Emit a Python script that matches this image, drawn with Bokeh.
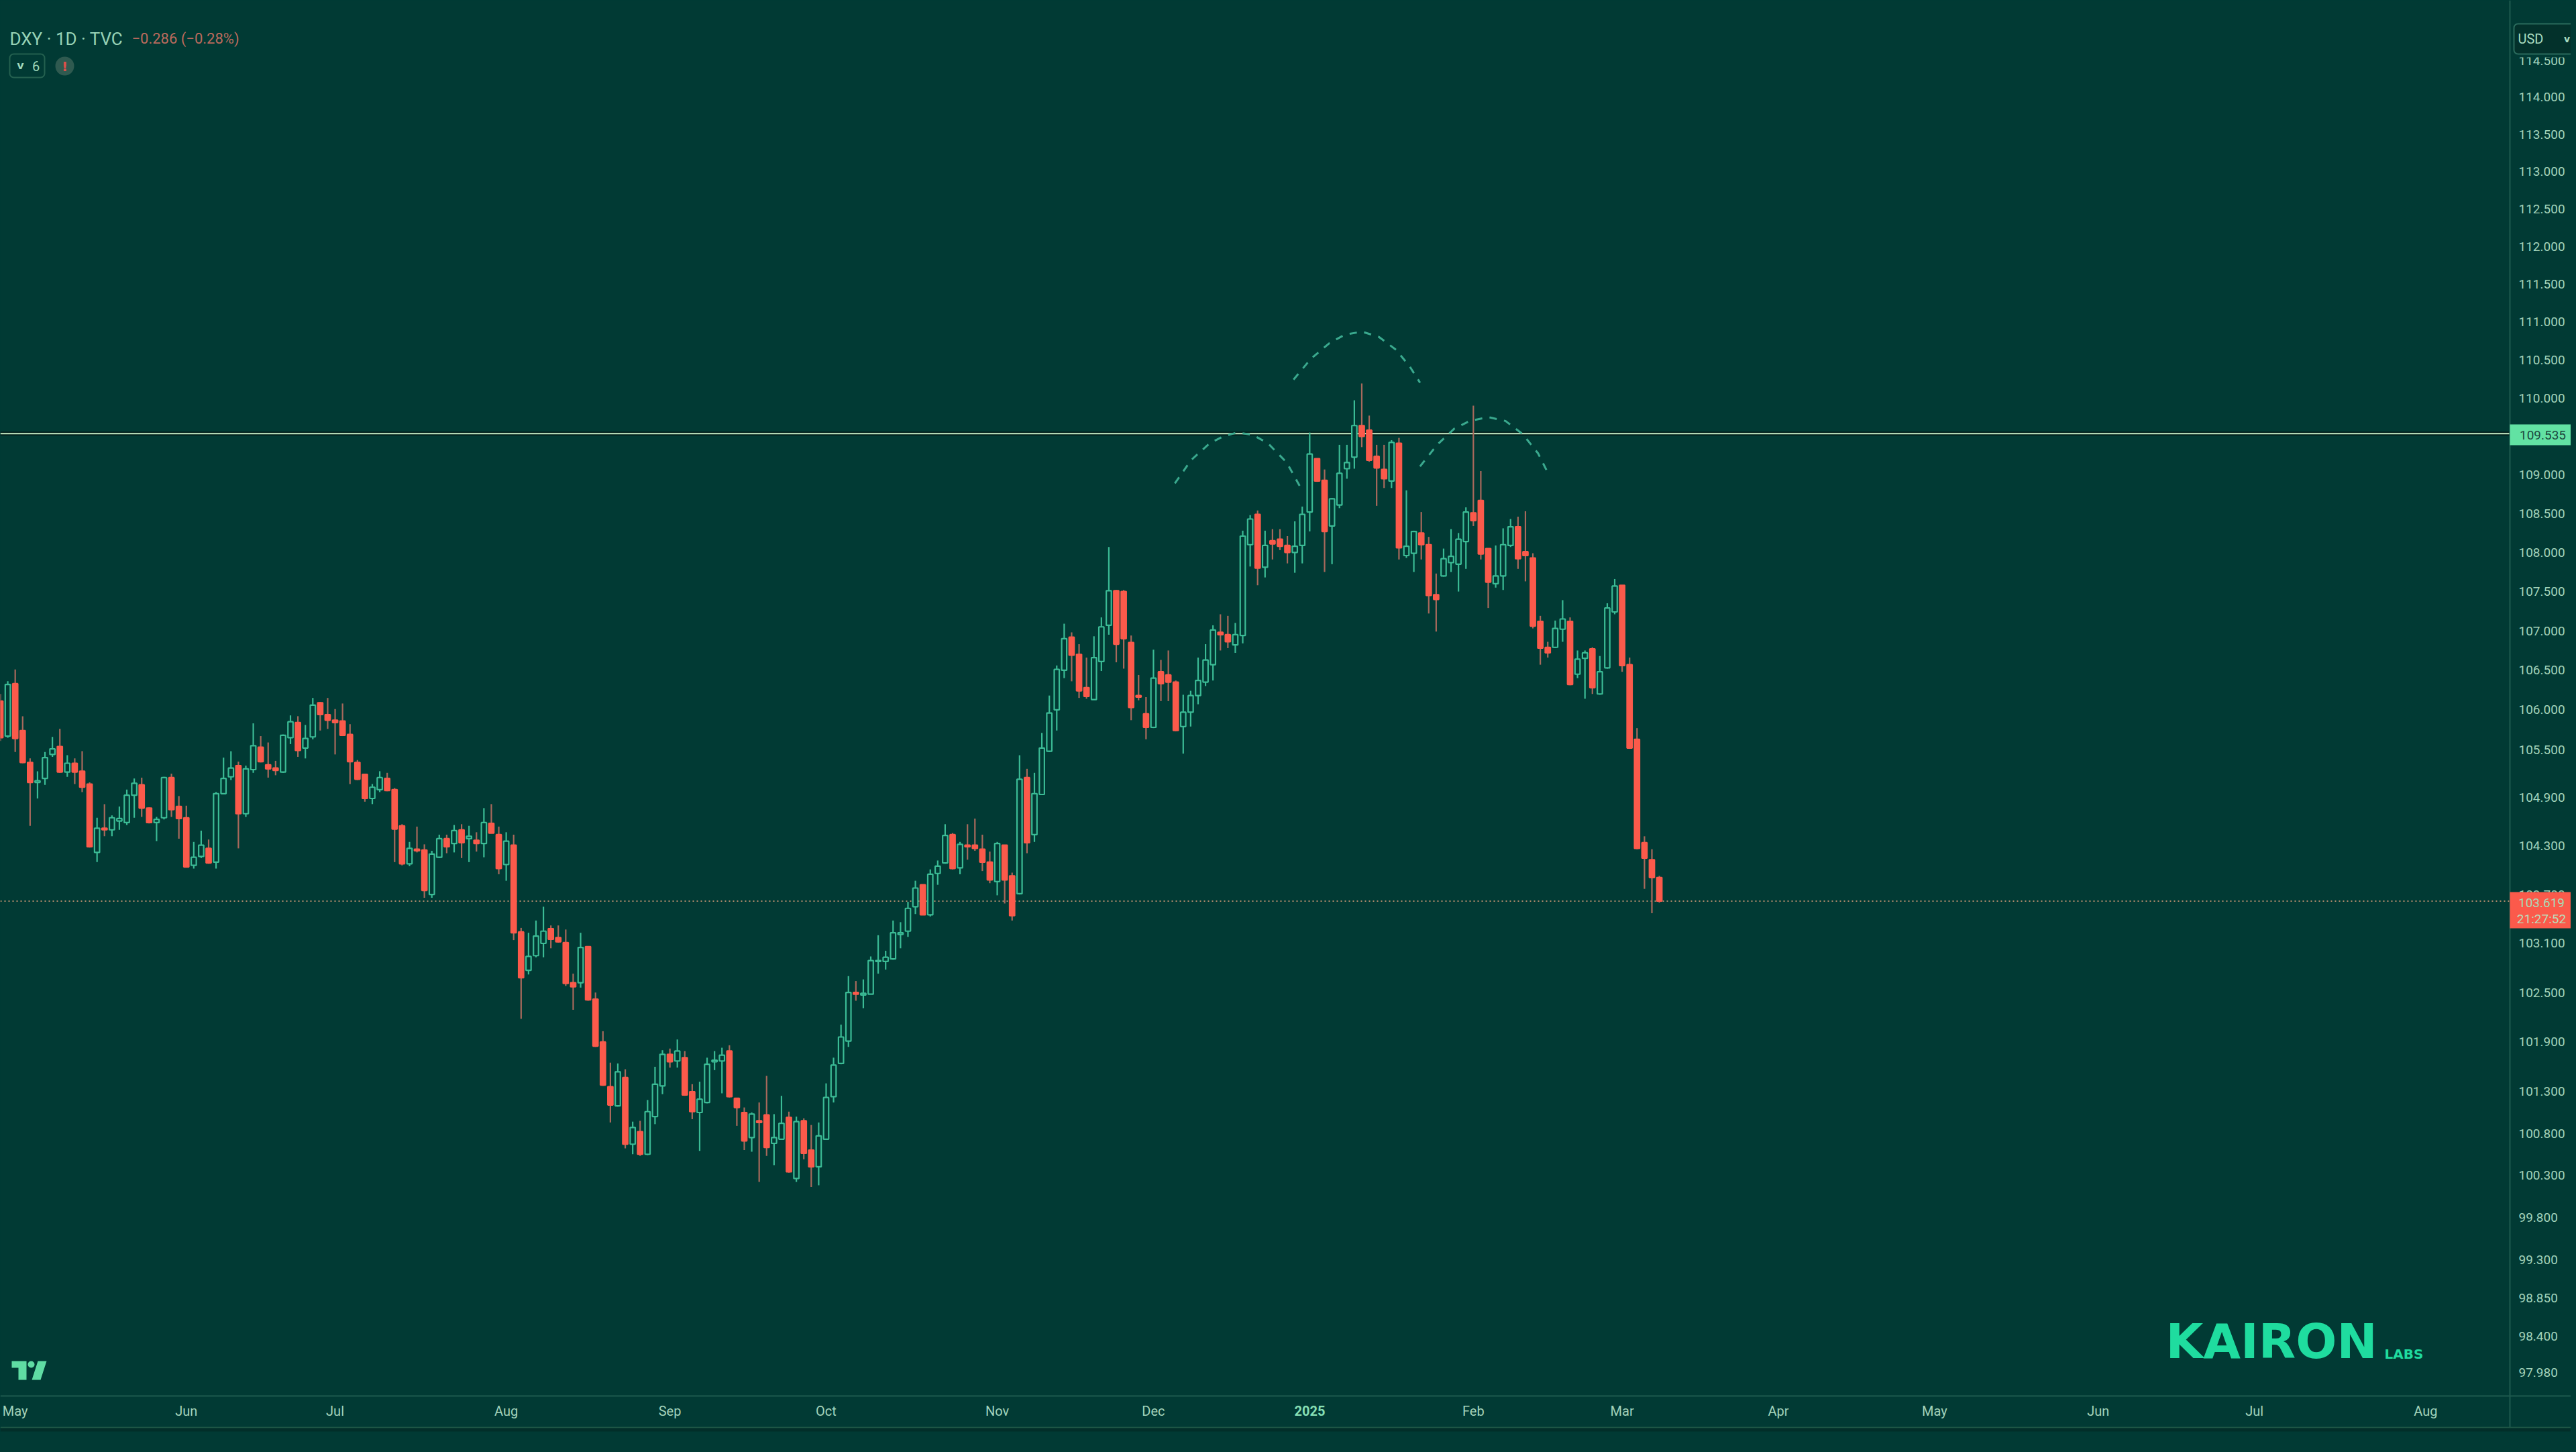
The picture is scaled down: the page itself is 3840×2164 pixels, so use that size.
from bokeh.embed import file_html
from bokeh.resources import INLINE
from bokeh.plotting import figure
from bokeh.models import (ColumnDataSource, FixedTicker, NumeralTickFormatter, Span, Label, BoxAnnotation,
                          PolyAnnotation, GlobalInlineStyleSheet)

BG = "#013a34"
UP = "#3bbb95"
DOWN = "#fb5a4b"
DOWN_WICK = "#a8695c"
AXIS_TEXT = "#a3d3bb"
SEP = "#1f5a4e"
BAR_PX = 11.09

opens = [106.11,105.67,106.33,105.74,105.34,105.09,105.14,105.44,105.54,105.22,
         105.33,105.23,105.07,104.22,104.52,104.50,104.61,104.59,104.93,105.06,
         104.77,104.59,104.65,105.15,104.79,104.65,104.06,104.17,104.27,104.10,
         104.95,105.16,105.30,104.70,105.25,105.53,105.31,105.27,105.22,105.65,
         105.84,105.52,105.66,106.09,105.94,105.87,105.86,105.69,105.34,105.19,
         104.89,105.00,105.14,105.00,104.55,104.08,104.26,104.25,103.70,104.16,
         104.39,104.33,104.50,104.39,104.37,104.33,104.58,104.44,104.07,104.31,
         103.24,102.77,102.95,103.10,103.28,103.17,103.11,102.62,102.62,103.06,
         102.42,101.90,101.36,101.13,101.47,100.67,100.82,100.55,101.00,101.37,
         101.75,101.67,101.71,101.30,101.05,101.17,101.66,101.67,101.79,101.22,
         101.05,100.75,100.95,101.02,100.68,100.73,100.99,100.26,100.95,100.60,
         100.40,100.73,101.24,101.64,101.91,102.50,102.47,102.48,102.88,102.88,
         102.91,103.21,103.25,103.55,103.82,103.45,103.96,104.09,104.44,104.03,
         104.31,104.31,104.26,104.10,103.86,104.31,103.93,103.71,105.15,104.44,
         104.94,105.48,106.00,106.50,106.92,106.70,106.28,106.13,106.61,107.07,
         107.51,107.50,106.85,106.18,105.95,105.78,106.48,106.44,106.35,105.79,
         105.97,106.18,106.35,106.57,106.98,106.95,106.82,106.94,108.10,108.49,
         107.81,108.15,108.17,108.09,108.00,108.09,108.52,109.21,108.93,108.34,
         108.61,109.08,109.23,109.64,109.58,109.24,109.07,108.92,109.41,107.96,
         107.99,108.25,108.10,107.46,107.70,107.87,107.85,108.14,108.51,108.67,
         108.05,107.60,107.70,108.09,108.33,108.01,107.93,107.12,106.79,106.79,
         107.02,107.12,106.45,106.65,106.77,106.20,106.53,107.24,107.58,106.57,
         105.63,104.34,104.13,103.91]
highs = [106.20,106.36,106.51,105.92,105.39,105.23,105.47,105.66,105.76,105.43,
         105.39,105.48,105.09,104.65,104.82,104.68,104.79,105.00,105.14,105.15,
         104.78,104.66,105.16,105.20,104.92,104.80,104.35,104.49,104.38,104.97,
         105.40,105.48,105.35,105.30,105.83,105.67,105.59,105.36,105.69,105.93,
         105.92,105.81,106.15,106.10,106.15,106.01,106.08,105.82,105.37,105.19,
         105.07,105.23,105.21,105.02,104.57,104.35,104.54,104.32,104.24,104.44,
         104.44,104.56,104.57,104.55,104.47,104.77,104.82,104.54,104.47,104.44,
         103.29,103.23,103.38,103.55,103.32,103.32,103.27,102.73,103.23,103.06,
         102.50,102.03,101.65,101.64,101.57,100.94,100.95,101.20,101.60,101.80,
         101.82,101.93,101.79,101.39,101.42,101.71,101.79,101.83,101.86,101.22,
         101.11,101.05,101.17,101.49,101.03,101.25,101.06,101.00,100.98,100.90,
         100.93,101.40,101.71,102.11,102.70,102.64,102.66,102.94,103.20,103.01,
         103.38,103.36,103.61,103.87,103.82,104.01,104.12,104.57,104.46,104.35,
         104.57,104.64,104.44,104.23,104.35,104.31,103.97,105.43,105.26,105.21,
         105.71,106.18,106.56,107.09,106.98,106.83,106.66,106.93,107.17,108.07,
         107.52,107.52,106.94,106.44,106.16,106.76,106.63,106.75,106.37,106.19,
         106.24,106.66,106.83,107.07,107.21,107.19,107.10,108.28,108.48,108.54,
         108.28,108.30,108.30,108.21,108.40,108.59,109.55,109.21,109.07,108.70,
         109.39,109.39,109.97,110.19,109.77,109.39,109.39,109.45,109.48,108.80,
         108.28,108.52,108.20,107.73,108.05,108.30,108.25,108.58,109.90,109.05,
         108.05,108.09,108.31,108.43,108.46,108.53,107.99,107.19,106.86,107.13,
         107.39,107.17,106.75,106.75,106.79,106.68,107.35,107.66,107.58,106.66,
         105.77,104.42,104.26,103.93]
lows = [105.61,105.65,105.47,105.33,104.55,104.89,105.06,105.41,105.21,105.16,
        105.07,104.97,104.28,104.10,104.42,104.42,104.50,104.56,104.65,104.66,
        104.58,104.36,104.63,104.66,104.39,104.04,104.02,104.15,104.08,104.02,
        104.94,105.12,104.27,104.66,105.21,105.34,105.15,105.18,105.21,105.57,
        105.41,105.39,105.63,105.74,105.76,105.44,105.67,105.07,105.12,104.85,
        104.82,104.97,104.98,104.10,104.06,104.05,104.22,103.66,103.66,104.15,
        104.21,104.22,104.15,104.10,104.23,104.16,104.46,103.95,103.87,103.14,
        102.18,102.72,102.93,102.93,103.04,103.11,102.58,102.29,102.56,102.40,
        101.84,101.37,100.93,101.12,100.62,100.55,100.53,100.54,100.91,101.27,
        101.59,101.59,101.25,100.97,100.59,101.16,101.56,101.28,101.23,100.89,
        100.60,100.58,100.22,100.53,100.42,100.73,100.33,100.22,100.49,100.16,
        100.18,100.72,101.17,101.63,101.84,102.40,102.31,102.48,102.73,102.78,
        102.90,103.04,103.18,103.46,103.45,103.43,103.82,104.08,104.01,103.95,
        104.13,104.24,103.99,103.84,103.69,103.59,103.38,103.70,104.21,104.35,
        104.94,105.47,105.74,106.40,106.36,106.15,106.14,106.13,106.49,106.95,
        106.60,106.52,105.87,106.12,105.63,105.77,106.11,106.11,105.73,105.45,
        105.79,106.07,106.30,106.37,106.75,106.78,106.72,106.84,107.82,107.58,
        107.68,107.91,108.03,107.86,107.74,107.86,108.27,108.91,107.75,107.85,
        108.57,108.95,109.08,109.36,109.17,108.60,108.83,108.83,107.91,107.93,
        107.75,107.91,107.22,106.99,107.69,107.75,107.50,107.79,108.34,107.91,
        107.29,107.55,107.52,108.07,107.79,107.63,107.03,106.57,106.66,106.78,
        106.86,106.31,106.40,106.14,106.20,106.19,106.52,107.21,106.48,105.51,
        104.26,103.77,103.47,103.60]
closes = [105.65,106.32,105.64,105.34,105.09,105.11,105.40,105.51,105.22,105.33,
          105.22,105.03,104.29,104.52,104.50,104.65,104.64,104.93,105.08,104.77,
          104.59,104.63,105.15,104.75,104.64,104.04,104.16,104.31,104.09,104.95,
          105.14,105.27,104.70,105.26,105.55,105.35,105.26,105.24,105.68,105.85,
          105.49,105.64,106.06,105.94,105.87,105.84,105.68,105.35,105.13,104.89,
          105.03,105.15,104.99,104.51,104.08,104.27,104.24,103.75,104.20,104.39,
          104.29,104.49,104.34,104.42,104.33,104.59,104.46,104.02,104.36,103.23,
          102.68,102.94,103.19,103.25,103.15,103.12,102.61,102.57,103.05,102.41,
          101.85,101.38,101.14,101.54,100.67,100.87,100.55,101.06,101.39,101.75,
          101.66,101.79,101.26,101.06,101.21,101.63,101.68,101.74,101.24,101.11,
          100.71,101.03,100.93,100.63,100.75,100.92,100.34,100.94,100.56,100.40,
          100.77,101.23,101.62,101.96,102.50,102.48,102.49,102.89,102.89,102.93,
          103.23,103.23,103.53,103.78,103.45,103.95,104.05,104.43,104.02,104.32,
          104.29,104.27,104.10,103.88,104.33,103.88,103.44,105.13,104.34,104.95,
          105.52,105.96,106.51,106.90,106.69,106.24,106.17,106.66,107.05,107.51,
          106.83,106.90,106.03,106.16,105.78,106.40,106.33,106.35,105.74,105.97,
          106.18,106.37,106.63,107.01,106.95,106.86,106.95,108.21,108.43,107.80,
          108.09,108.11,108.08,108.00,108.08,108.49,109.27,108.92,108.27,108.69,
          109.02,109.16,109.64,109.50,109.19,109.09,108.95,109.42,108.06,108.08,
          108.27,108.10,107.45,107.40,107.92,107.95,108.17,108.52,108.41,107.98,
          107.62,107.70,108.10,108.33,107.92,107.96,107.06,106.78,106.72,107.03,
          107.15,106.32,106.64,106.72,106.28,106.48,107.29,107.57,106.56,105.52,
          104.27,104.15,103.91,103.619]

price_ticks = [114.5,114,113.5,113,112.5,112,111.5,111,110.5,110,109,108.5,108,107.5,107,106.5,106,105.5,
               104.9,104.3,103.7,103.1,102.5,101.9,101.3,100.8,100.3,99.8,99.3,98.85,98.4,97.98]
month_positions = [2,25,45,68,90,111,134,155,198,218,239,260,282,303,326]
month_labels = ["May","Jun","Jul","Aug","Sep","Oct","Nov","Dec","Feb","Mar","Apr","May","Jun","Jul","Aug"]

neckline_price = 109.535
last_price = 103.619

arc_left_x = [157.88,160.04,162.57,164.41,166.25,168.32,170.38,172.91,174.75]
arc_left_y = [108.89,109.19,109.41,109.50,109.55,109.52,109.41,109.16,108.84]
arc_head_x = [173.83,176.13,178.66,180.72,183.02,185.32,187.62,189.46,190.83]
arc_head_y = [110.24,110.51,110.72,110.83,110.87,110.80,110.63,110.41,110.20]
arc_right_x = [190.83,193.13,195.43,197.5,200.03,202.32,204.62,206.69,207.84]
arc_right_y = [109.11,109.39,109.60,109.70,109.75,109.70,109.53,109.28,109.06]

n = len(opens)
idx = list(range(n))
up = [c >= o for o, c in zip(opens, closes)]
src = ColumnDataSource(dict(x=idx, o=opens, h=highs, l=lows, c=closes,
                            top=[max(a, b) for a, b in zip(opens, closes)],
                            bot=[min(a, b) for a, b in zip(opens, closes)],
                            wick=[UP if u else DOWN_WICK for u in up],
                            fill=[BG if u else DOWN for u in up],
                            edge=[UP if u else DOWN for u in up]))

W, H = 3832, 2148
p = figure(width=W, height=H, output_backend="svg", toolbar_location=None,
           y_axis_type="log", y_axis_location="right",
           x_range=(0, W/BAR_PX), y_range=(97.176, 115.32),
           min_border_left=0, min_border_top=0, min_border_right=0, min_border_bottom=0,
           background_fill_color=BG, border_fill_color=BG, outline_line_color=None,
           stylesheets=[GlobalInlineStyleSheet(css=f"html,body{{background:{BG};}}")])
p.grid.visible = False

p.yaxis.fixed_location = 3741/BAR_PX
p.yaxis.ticker = FixedTicker(ticks=price_ticks)
p.yaxis.formatter = NumeralTickFormatter(format="0.000")
p.yaxis.major_tick_line_color = None
p.yaxis.minor_tick_line_color = None
p.yaxis.major_tick_out = 0
p.yaxis.major_tick_in = 0
p.yaxis.axis_line_color = None
p.yaxis.major_label_text_color = AXIS_TEXT
p.yaxis.major_label_text_font = "Roboto"
p.yaxis.major_label_text_font_size = "19px"
p.yaxis.major_label_standoff = 13

p.xaxis.fixed_location = 97.70
p.xaxis.ticker = FixedTicker(ticks=month_positions)
p.xaxis.major_label_overrides = {int(a): b for a, b in zip(month_positions, month_labels)}
p.xaxis.major_tick_line_color = None
p.xaxis.minor_tick_line_color = None
p.xaxis.major_tick_out = 0
p.xaxis.major_tick_in = 0
p.xaxis.axis_line_color = None
p.xaxis.major_label_text_color = AXIS_TEXT
p.xaxis.major_label_text_font = "Roboto"
p.xaxis.major_label_text_font_size = "20px"
p.xaxis.major_label_standoff = 10

neck_halo = Span(location=neckline_price, dimension="width", line_color="#021f1b", line_width=6, level="underlay")
neck = Span(location=neckline_price, dimension="width", line_color="#c8efc8", line_width=2, level="underlay")
last = Span(location=last_price, dimension="width", line_color="#b08a6c", line_width=2, line_dash=[2, 4], level="underlay")
p.add_layout(neck_halo); p.add_layout(neck); p.add_layout(last)

p.segment("x", "h", "x", "l", source=src, line_color="wick", line_width=2.2)
p.vbar(x="x", top="top", bottom="bot", width=0.68, source=src, fill_color="fill", line_color="edge", line_width=2.2)

for ax, ay in ((arc_left_x, arc_left_y), (arc_head_x, arc_head_y), (arc_right_x, arc_right_y)):
    p.line(ax, ay, line_color="#3aa98e", line_width=3, line_dash=[11, 11])

def box(l, r, t, b, fill, line=None, radius=0):
    p.add_layout(BoxAnnotation(left=l, right=r, top=t, bottom=b,
                               left_units="canvas", right_units="canvas", top_units="canvas", bottom_units="canvas",
                               fill_color=fill, fill_alpha=1, line_color=line, line_alpha=1,
                               line_width=2 if line else 0, border_radius=radius))

def text(s, x, y, color, size, align="left", font="Roboto", style="normal"):
    p.add_layout(Label(x=x, y=y, x_units="canvas", y_units="canvas", text=s, text_color=color,
                       text_font_size=f"{size}px", text_font=font, text_font_style=style,
                       text_align=align, text_baseline="middle"))

# frame furniture around the plot
box(3740, 3742, 0, 2128, SEP)
box(0, 3840, 2079, 2081, SEP)
box(0, 3840, 2126, 2128, "#1d5544")
box(0, 3840, 2128, 2133, "#022e29")
text("2025", 1952, 2102, "#86dfb4", 20, "center", style="bold")

# price tags
box(3741, 3832, 632, 663, "#62e2a3")
text("109.535", 3790, 648, "#1d4a3f", 19, "center")
box(3741, 3838, 1329, 1383, DOWN)
text("103.619", 3788, 1345, "#a9dcb9", 19, "center")
text("21:27:52", 3788, 1369, "#bcdcb9", 19, "center")

# currency button
box(3743, 3840, 80, 85, BG)
box(3747, 3837, 35, 80, "#03312b", "#2a6a5c", 6)
text("USD", 3753, 57, "#a9dcc0", 20)
text("v", 3826, 57, "#a9dcc0", 14, "center", "DejaVu Sans", "bold")

# legend row
text("DXY · 1D · TVC", 14, 57, "#97d2b6", 26)
text("−0.286 (−0.28%)", 196, 57, "#bb6a5d", 22)
box(14, 66, 80, 115, BG, "#24604f", 6)
text("v", 30, 97, "#9fd8bb", 16, "center", "DejaVu Sans", "bold")
text("6", 53, 98, "#9fd8bb", 20, "center")
box(82, 110, 84, 112, "#2f5a50", radius=14)
text("!", 96, 98, "#e0504a", 20, "center", font="DejaVu Sans", style="bold")

# watermarks
text("KAIRON", 3228, 1998, "#1fdc9f", 72, font="DejaVu Sans", style="bold")
text("LABS", 3554, 2017, "#1fdc9f", 20, font="DejaVu Sans", style="bold")

for xs, ys in (([17, 39, 39, 27, 27, 17], [2028, 2028, 2056, 2056, 2038, 2038]),
               ([56, 69, 60, 47], [2028, 2028, 2056, 2056])):
    p.add_layout(PolyAnnotation(xs=xs, ys=ys, xs_units="canvas", ys_units="canvas",
                                fill_color="#5fdca3", fill_alpha=1, line_color=None))
box(41, 51, 2028, 2038, "#5fdca3", radius=5)

open("out.html", "w").write(file_html(p, INLINE))
